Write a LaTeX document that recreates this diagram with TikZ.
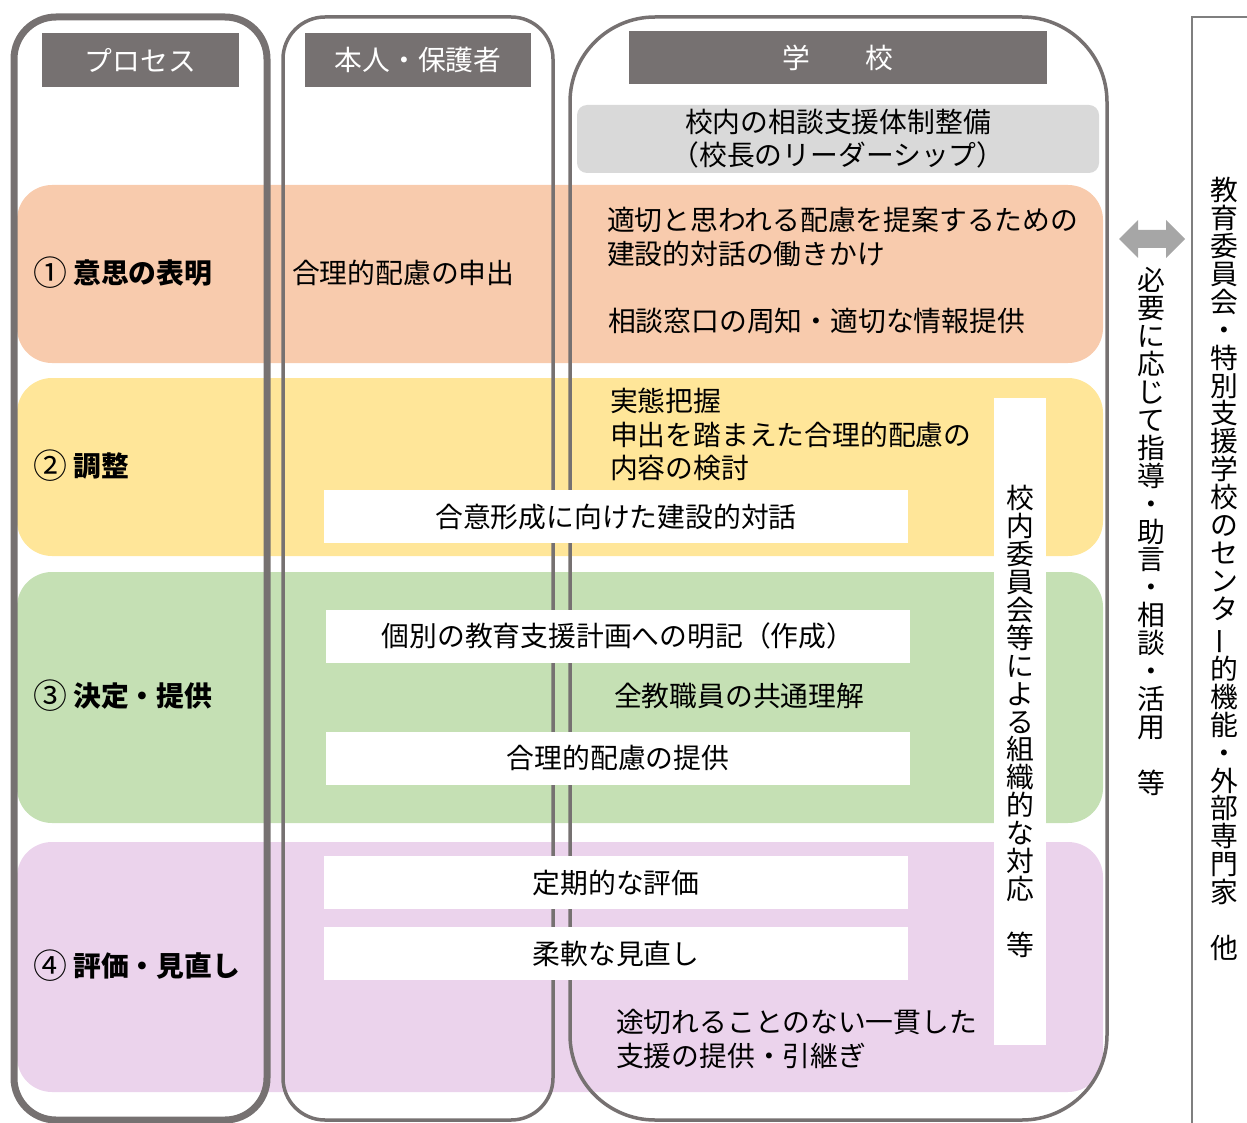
\documentclass[tikz,border=0pt]{standalone}
\usepackage{fontspec}
\usepackage{graphicx}
\setmainfont{Noto Sans CJK JP}
\definecolor{hdrgray}{RGB}{118,113,113}
\definecolor{colgray}{RGB}{118,113,113}
\definecolor{leadgray}{RGB}{217,217,217}
\definecolor{bandOrange}{RGB}{248,203,173}
\definecolor{bandYellow}{RGB}{255,230,153}
\definecolor{bandGreen}{RGB}{197,224,180}
\definecolor{bandPurple}{RGB}{235,211,236}
\definecolor{arrowgray}{RGB}{166,166,166}
\definecolor{framegray}{RGB}{127,127,127}
\newcommand\jfont{\fontsize{27.8pt}{34pt}\selectfont}
\newcommand\jfontv{\fontsize{27.8pt}{27.9pt}\selectfont}
\newcommand\circnum[1]{{\mdseries\raisebox{-2.5pt}{\scalebox{1.22}{#1}}}}
\tikzset{
  bandshape/.style={rounded corners=35pt},
  hdrbox/.style={fill=hdrgray, text=white, inner sep=0pt, outer sep=0pt, minimum height=54pt, font=\jfont},
  wbox/.style={fill=white, inner sep=0pt, outer sep=0pt, minimum width=584pt, minimum height=53pt, font=\jfont},
  txt/.style={anchor=west, inner sep=0pt, outer sep=0pt, align=left, font=\jfont},
  lbl/.style={anchor=west, inner sep=0pt, outer sep=0pt, font=\jfont\bfseries},
  vtxt/.style={inner sep=0pt, outer sep=0pt, align=center, font=\jfontv},
}
\begin{document}
\begin{tikzpicture}[x=1pt,y=-1pt]
\useasboundingbox (0,0) rectangle (1247,1123);
% bands
\fill[bandOrange, bandshape] (17,185) rectangle (1103,363);
\fill[bandYellow, bandshape] (17,378) rectangle (1103,556);
\fill[bandGreen, bandshape] (17,572) rectangle (1103,823);
\fill[bandPurple, bandshape] (17,842) rectangle (1103,1092);
% headers
\node[hdrbox, minimum width=197pt] (hproc) at (140.5,60) {プロセス};
\node[hdrbox, minimum width=226pt] (hself) at (418,60) {本人・保護者};
\node[hdrbox, minimum width=418pt, minimum height=53pt] (hschool) at (838,57.5) {学　　校};
\node[fill=leadgray, rounded corners=10pt, minimum width=522pt, minimum height=68pt, inner sep=0pt, align=center, font=\fontsize{27.8pt}{33pt}\selectfont] (lead) at (838,139) {校内の相談支援体制整備\\（校長のリーダーシップ）};
% columns
\draw[colgray, line width=7pt, rounded corners=42pt] (14,17) rectangle (267,1120);
\draw[colgray, line width=3.5pt, rounded corners=42pt] (283,17) rectangle (553,1120);
\draw[colgray, line width=3.5pt, rounded corners=85pt] (570,17) rectangle (1107,1120);
% white boxes
\node[wbox] (goui) at (616,516.5) {合意形成に向けた建設的対話};
\node[wbox] (kobetsu) at (618,636) {個別の教育支援計画への明記（作成）};
\node[wbox] (teikyo) at (618,758) {合理的配慮の提供};
\node[wbox] (hyoka) at (616,882.5) {定期的な評価};
\node[wbox] (minaoshi) at (616,953.5) {柔軟な見直し};
\node[fill=white, inner sep=0pt, outer sep=0pt, minimum width=52pt, minimum height=647pt, align=center, font=\jfontv] (iinkai) at (1020,721.5) {校\\内\\委\\員\\会\\等\\に\\よ\\る\\組\\織\\的\\な\\対\\応\\　\\等};
% process labels
\node[lbl] (p1) at (33,273) {\circnum{①} 意思の表明};
\node[lbl] (p2) at (33,466) {\circnum{②} 調整};
\node[lbl] (p3) at (33,696) {\circnum{③} 決定・提供};
\node[lbl] (p4) at (33,966) {\circnum{④} 評価・見直し};
% texts
\node[txt] (moushide) at (292,273) {合理的配慮の申出};
\node[txt] (hatarakikake) at (607,237) {適切と思われる配慮を提案するための\\建設的対話の働きかけ};
\node[txt] (madoguchi) at (608,321) {相談窓口の周知・適切な情報提供};
\node[txt, font=\fontsize{27.8pt}{33.5pt}\selectfont] (jittai) at (610,434.5) {実態把握\\申出を踏まえた合理的配慮の\\内容の検討};
\node[txt] (kyoutsu) at (614,696) {全教職員の共通理解};
\node[txt] (hikitsugi) at (616,1039) {途切れることのない一貫した\\支援の提供・引継ぎ};
% right side
\fill[arrowgray] (1119,239) -- (1138,220) -- (1138,230) -- (1166,230) -- (1166,220) -- (1185,239) -- (1166,258) -- (1166,248) -- (1138,248) -- (1138,258) -- cycle;
\draw[framegray, line width=1.5pt] (1192,1130) -- (1192,17) -- (1252,17);
\node[vtxt] (need) at (1151,531.5) {必\\要\\に\\応\\じ\\て\\指\\導\\・\\助\\言\\・\\相\\談\\・\\活\\用\\　\\等};
\node[vtxt] (ext) at (1224,569) {教\\育\\委\\員\\会\\・\\特\\別\\支\\援\\学\\校\\の\\セ\\ン\\タ\\\rotatebox[origin=c]{90}{ー}\\的\\機\\能\\・\\外\\部\\専\\門\\家\\　\\他};
\end{tikzpicture}
\end{document}
